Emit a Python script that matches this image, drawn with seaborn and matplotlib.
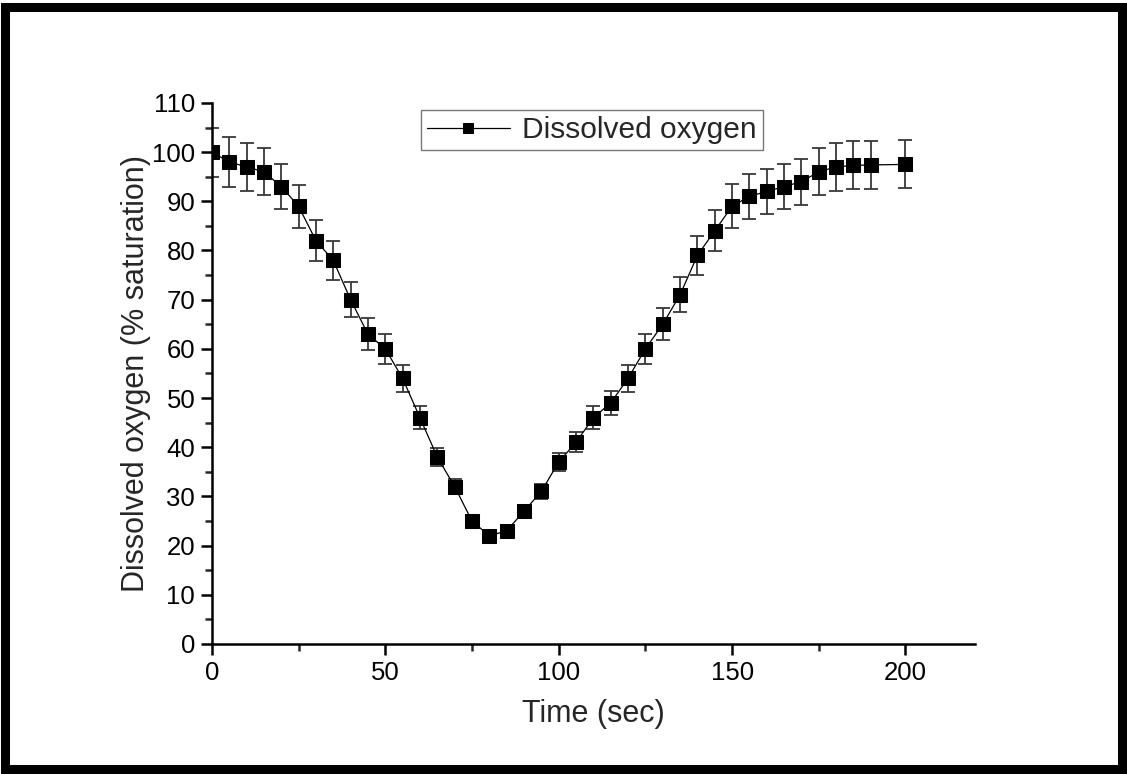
import matplotlib
matplotlib.use("Agg")
import matplotlib.pyplot as plt
import seaborn as sns
import pandas as pd
from matplotlib.patches import Rectangle
from matplotlib.ticker import MultipleLocator

time_sec = [0, 5, 10, 15, 20, 25, 30, 35, 40, 45, 50, 55, 60, 65, 70, 75, 80, 85, 90, 95,
            100, 105, 110, 115, 120, 125, 130, 135, 140, 145, 150, 155, 160, 165, 170, 175,
            180, 185, 190, 200]
dissolved_oxygen = [100, 98, 97, 96, 93, 89, 82, 78, 70, 63, 60, 54, 46, 38, 32, 25, 22, 23, 27, 31,
                    37, 41, 46, 49, 54, 60, 65, 71, 79, 84, 89, 91, 92, 93, 94, 96,
                    97, 97.3, 97.4, 97.5]
error = [5.0, 5.0, 4.9, 4.8, 4.6, 4.4, 4.1, 3.9, 3.5, 3.2, 3.0, 2.7, 2.3, 1.9, 1.6, 1.2, 1.1, 1.15, 1.35, 1.55,
         1.85, 2.0, 2.3, 2.45, 2.7, 3.0, 3.25, 3.55, 3.95, 4.2, 4.45, 4.55, 4.6, 4.65, 4.7, 4.8,
         4.85, 4.87, 4.87, 4.87]

df = pd.DataFrame({"Time (sec)": time_sec, "DO": dissolved_oxygen, "err": error})

sns.set_style("ticks")
plt.rcParams["font.family"] = ["Liberation Sans", "DejaVu Sans"]

fig = plt.figure(figsize=(11.27, 7.74), dpi=100)
ax = fig.add_axes([0.188, 0.168, 0.677, 0.699])

ax.errorbar(df["Time (sec)"], df["DO"], yerr=df["err"], fmt="none", ecolor="#383838",
            elinewidth=1.3, capsize=5, capthick=1.3, zorder=2)
sns.lineplot(data=df, x="Time (sec)", y="DO", ax=ax, color="black", linewidth=0.9,
             marker="s", markersize=10, markeredgecolor="black", markerfacecolor="black",
             label="Dissolved oxygen", zorder=3)

ax.set_xlim(0, 220)
ax.set_ylim(0, 110)
ax.xaxis.set_major_locator(MultipleLocator(50))
ax.xaxis.set_minor_locator(MultipleLocator(25))
ax.yaxis.set_major_locator(MultipleLocator(10))
ax.yaxis.set_minor_locator(MultipleLocator(5))
ax.set_xticks([0, 50, 100, 150, 200])

for s in ["top", "right"]:
    ax.spines[s].set_visible(False)
for s in ["left", "bottom"]:
    ax.spines[s].set_linewidth(1.8)
    ax.spines[s].set_color("black")

ax.tick_params(axis="both", which="major", direction="out", length=8, width=1.8,
               labelsize=18.5, colors="black", pad=4)
ax.tick_params(axis="both", which="minor", direction="out", length=5, width=1.8)

ax.set_xlabel("Time (sec)", fontsize=22, labelpad=10)
ax.set_ylabel("Dissolved oxygen (% saturation)", fontsize=22, labelpad=1)

leg = ax.legend(loc="center", bbox_to_anchor=(0.525, 0.832), bbox_transform=fig.transFigure,
                fontsize=21.5, frameon=True, fancybox=False, edgecolor="#555555",
                handlelength=2.8, borderpad=0.2, handletextpad=0.4, borderaxespad=0,
                markerscale=0.75)
leg.get_frame().set_linewidth(1.0)

fig.patches.append(Rectangle((0.0045, 0.0065), 0.991, 0.985, transform=fig.transFigure,
                             fill=False, edgecolor="black", linewidth=6.5, zorder=10))

fig.savefig("out.png", dpi=100, facecolor="white")
